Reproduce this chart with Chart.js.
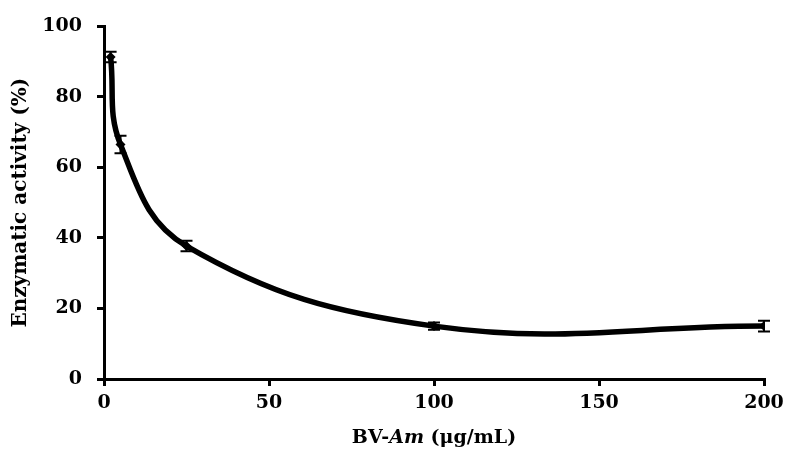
<!DOCTYPE html>
<html><head><meta charset="utf-8">
<script src="https://cdn.jsdelivr.net/npm/chart.js@4/dist/chart.umd.min.js"></script>
<style>html,body{margin:0;padding:0;background:#fff}#wrap{width:790px;height:469px;position:relative}</style>
</head><body><div id="wrap"><canvas id="c" width="790" height="469"></canvas></div>
<script>
const concentrations = [2, 5, 25, 100, 200];
const activity = [91.3, 66.5, 37.7, 15.0, 15.0];
const errors = [1.5, 2.5, 1.5, 1.0, 1.5];
const xTicks = [0, 50, 100, 150, 200];
const yTicks = [0, 20, 40, 60, 80, 100];
const yTitle = 'Enzymatic activity (%)';
const xTitleParts = [['BV-', false], ['Am', true], [' (μg/mL)', false]];

const FONT = 'DejaVu Serif';

const errorBars = {
  id: 'errorBars',
  afterDatasetsDraw(chart) {
    const ctx = chart.ctx, xs = chart.scales.x, ys = chart.scales.y;
    ctx.save();
    ctx.strokeStyle = '#000'; ctx.lineWidth = 2;
    concentrations.forEach((c, i) => {
      const px = xs.getPixelForValue(c);
      const top = ys.getPixelForValue(activity[i] + errors[i]);
      const bot = ys.getPixelForValue(activity[i] - errors[i]);
      ctx.beginPath();
      ctx.moveTo(px, top); ctx.lineTo(px, bot);
      ctx.moveTo(px - 6, top); ctx.lineTo(px + 6, top);
      ctx.moveTo(px - 6, bot); ctx.lineTo(px + 6, bot);
      ctx.stroke();
    });
    ctx.restore();
  }
};

const xTitle = {
  id: 'xTitle',
  afterDraw(chart) {
    const ctx = chart.ctx, a = chart.chartArea;
    ctx.save();
    ctx.fillStyle = '#000'; ctx.textBaseline = 'middle';
    const fonts = xTitleParts.map(p => (p[1] ? 'italic ' : '') + 'bold 19px "' + FONT + '"');
    let total = 0;
    xTitleParts.forEach((p, i) => { ctx.font = fonts[i]; total += ctx.measureText(p[0]).width; });
    let x = (a.left + a.right) / 2 - total / 2;
    const y = 438;
    xTitleParts.forEach((p, i) => { ctx.font = fonts[i]; ctx.textAlign = 'left'; ctx.fillText(p[0], x, y); x += ctx.measureText(p[0]).width; });
    ctx.restore();
  }
};

new Chart(document.getElementById('c'), {
  type: 'line',
  data: {
    datasets: [{
      data: concentrations.map((c, i) => ({x: c, y: activity[i]})),
      borderColor: '#000', backgroundColor: '#000', borderWidth: 5.5,
      tension: 0.4, pointStyle: 'rectRot', pointRadius: 5, pointBorderWidth: 0,
      fill: false
    }]
  },
  options: {
    responsive: false, animation: false,
    layout: {padding: {left: 0, right: 26, top: 24, bottom: 0}},
    plugins: {legend: {display: false}, tooltip: {enabled: false}},
    scales: {
      x: {
        type: 'linear', min: 0, max: 200,
        afterBuildTicks: s => { s.ticks = xTicks.map(v => ({value: v})); },
        afterFit: s => { s.height = 90; },
        border: {display: true, color: '#000', width: 3},
        grid: {display: true, drawOnChartArea: false, drawTicks: true, tickLength: 7, color: '#000', lineWidth: 3},
        ticks: {color: '#000', font: {family: FONT, size: 19, weight: 'bold'}, padding: 6, maxRotation: 0}
      },
      y: {
        type: 'linear', min: 0, max: 100,
        afterBuildTicks: s => { s.ticks = yTicks.map(v => ({value: v})); },
        afterFit: s => { s.width = 104; },
        border: {display: true, color: '#000', width: 3},
        grid: {display: true, drawOnChartArea: false, drawTicks: true, tickLength: 7, color: '#000', lineWidth: 3},
        ticks: {color: '#000', font: {family: FONT, size: 19, weight: 'bold'}, padding: 15},
        title: {display: true, text: yTitle, color: '#000', font: {family: FONT, size: 20, weight: 'bold'}, padding: {top: 9, bottom: 0}}
      }
    }
  },
  plugins: [errorBars, xTitle]
});
</script></body></html>
